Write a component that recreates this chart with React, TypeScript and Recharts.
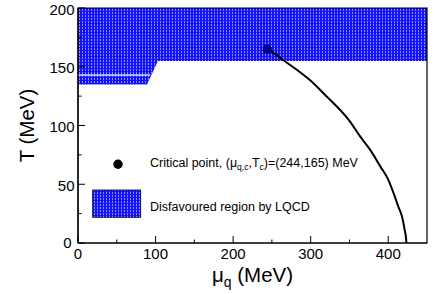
import React from "react";
import {
  ComposedChart,
  Area,
  Line,
  Scatter,
  XAxis,
  YAxis,
  ReferenceArea,
} from "recharts";

// ---- data ----
const regionMu = [0, 89, 103, 450];
const regionLow = [135, 135, 155, 155];
const regionHigh = [200, 200, 200, 200];

const seamMu = [0, 93];
const seamT = [143, 143];

const curveMu = [244, 255, 265, 283, 299, 321, 334, 350, 364, 377, 390, 400, 407, 413, 418, 421, 423, 423.5];
const curveT = [165, 160.5, 155.5, 147, 138.7, 124.5, 116, 104, 90.5, 79, 65, 54, 42.3, 31, 22, 12, 4, 0];

const criticalMu = [244];
const criticalT = [165];

const xTicks = [0, 50, 100, 150, 200, 250, 300, 350, 400];
const yTicks = [0, 25, 50, 75, 100, 125, 150, 175, 200];

const regionData = regionMu.map((mu, i) => ({ mu, band: [regionLow[i], regionHigh[i]] }));
const seamData = seamMu.map((mu, i) => ({ mu, T: seamT[i] }));
const curveData = curveMu.map((mu, i) => ({ mu, T: curveT[i] }));
const criticalData = criticalMu.map((mu, i) => ({ mu, T: criticalT[i] }));

const FONT = "'Liberation Sans', Arial, Helvetica, sans-serif";

const XTick = (props: any) => {
  const { x, y, payload } = props;
  const v = payload.value;
  const major = v % 100 === 0;
  return (
    <g>
      <line x1={x} x2={x} y1={y} y2={y - (major ? 7 : 3.5)} stroke="#000" strokeWidth={1} />
      {major && (
        <text x={x} y={y + 15.5} textAnchor="middle" fontSize={15} fontFamily={FONT} fill="#000">
          {v}
        </text>
      )}
    </g>
  );
};

const YTick = (props: any) => {
  const { x, y, payload } = props;
  const v = payload.value;
  const major = v % 50 === 0;
  return (
    <g>
      <line x1={x} x2={x + (major ? 7 : 3.5)} y1={y} y2={y} stroke="#000" strokeWidth={1} />
      {major && (
        <text
          x={v === 0 ? x - 6.5 : x - 3.5}
          y={v === 0 ? y + 5.3 : y + 6.5}
          textAnchor="end"
          fontSize={15}
          fontFamily={FONT}
          fill="#000"
        >
          {v}
        </text>
      )}
    </g>
  );
};

const XTitle = (props: any) => {
  const vb = props.viewBox || { x: 78, y: 243, width: 349, height: 51 };
  const cx = vb.x + vb.width / 2;
  return (
    <text x={cx} y={vb.y + 38.7} textAnchor="middle" fontSize={20.5} fontFamily={FONT} fill="#000">
      <tspan>μ</tspan>
      <tspan fontSize={14} dy={5.5}>q</tspan>
      <tspan dy={-5.5}> (MeV)</tspan>
    </text>
  );
};

const YTitle = (props: any) => {
  const vb = props.viewBox || { x: 0, y: 8, width: 78, height: 235 };
  const cy = vb.y + vb.height / 2;
  return (
    <text
      transform={`translate(33.5,${cy}) rotate(-90)`}
      x={0}
      y={0}
      textAnchor="middle"
      fontSize={20.5}
      fontFamily={FONT}
      fill="#000"
    >
      T (MeV)
    </text>
  );
};

const CriticalDot = (props: any) => {
  const { cx, cy } = props;
  return <circle cx={cx} cy={cy} r={4.6} fill="#00008a" />;
};

const Pattern = ({ id }: { id: string }) => (
  <pattern id={id} patternUnits="userSpaceOnUse" width={3} height={3}>
    <rect x={0} y={0} width={3} height={3} fill="#1212ff" />
    <rect x={1} y={0} width={1} height={2} fill="#8c8cff" />
  </pattern>
);

export default function App() {
  return (
    <div style={{ position: "absolute", left: 0, top: 0, width: 435, height: 294, background: "#fff" }}>
      <ComposedChart
        width={435}
        height={294}
        margin={{ top: 8, right: 8, left: 0, bottom: 0 }}
      >
        <defs>
          <Pattern id="lqcdPattern" />
        </defs>
        <XAxis
          type="number"
          dataKey="mu"
          domain={[0, 450]}
          ticks={xTicks}
          interval={0}
          allowDataOverflow
          height={51}
          tickSize={0}
          tickMargin={0}
          tickLine={false}
          axisLine={{ stroke: "#000", strokeWidth: 1.2 }}
          tick={<XTick />}
          label={{ content: <XTitle /> }}
        />
        <YAxis
          type="number"
          domain={[0, 200]}
          ticks={yTicks}
          interval={0}
          allowDataOverflow
          width={78}
          tickSize={0}
          tickMargin={0}
          tickLine={false}
          axisLine={{ stroke: "#000", strokeWidth: 1.2 }}
          tick={<YTick />}
          label={{ content: <YTitle /> }}
        />
        <Area
          data={regionData}
          dataKey="band"
          type="linear"
          stroke="none"
          fill="url(#lqcdPattern)"
          fillOpacity={1}
          isAnimationActive={false}
          dot={false}
          activeDot={false}
        />
        <Line
          data={seamData}
          dataKey="T"
          type="linear"
          stroke="#d8dcff"
          strokeWidth={1.5}
          dot={false}
          activeDot={false}
          isAnimationActive={false}
        />
        <Line
          data={curveData}
          dataKey="T"
          type="monotone"
          stroke="#000"
          strokeWidth={2}
          dot={false}
          activeDot={false}
          isAnimationActive={false}
        />
        <Scatter
          data={criticalData}
          dataKey="T"
          shape={<CriticalDot />}
          isAnimationActive={false}
        />
        <ReferenceArea x1={0} x2={450} y1={0} y2={200} fill="none" stroke="#000" strokeWidth={1.2} ifOverflow="visible" />
      </ComposedChart>
      <svg
        width={435}
        height={294}
        style={{ position: "absolute", left: 0, top: 0, pointerEvents: "none" }}
      >
        <defs>
          <Pattern id="lqcdPatternLegend" />
        </defs>
        <circle cx={118} cy={164.3} r={4.7} fill="#000" />
        <text x={150} y={167.3} fontSize={12.5} fontFamily={FONT} fill="#000">
          <tspan>Critical point, (μ</tspan>
          <tspan fontSize={8.5} dy={3}>q,c</tspan>
          <tspan dy={-3}>,T</tspan>
          <tspan fontSize={8.5} dy={3}>c</tspan>
          <tspan dy={-3}>)=(244,165) MeV</tspan>
        </text>
        <rect x={92.7} y={190} width={48} height={27.3} fill="url(#lqcdPatternLegend)" stroke="#000" strokeWidth={0.8} />
        <text x={150} y={210.7} fontSize={12.5} fontFamily={FONT} fill="#000">
          Disfavoured region by LQCD
        </text>
      </svg>
    </div>
  );
}
